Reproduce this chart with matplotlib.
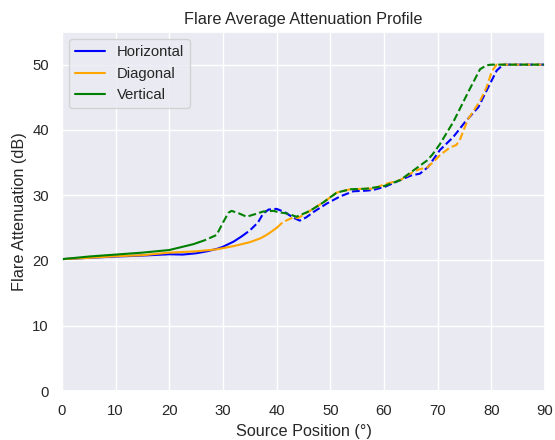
import numpy as np
import matplotlib
matplotlib.use("Agg")
import matplotlib.pyplot as plt
import seaborn as sns

sns.set_theme(style="darkgrid")
plt.rcParams['font.family'] = ['Liberation Sans', 'DejaVu Sans']

# Source position (deg) and attenuation (dB) per orientation
h_pos = [0, 5, 10, 15, 20, 22.5, 25, 27, 29, 30, 32, 33.5, 35, 36.5, 37.5, 38.5, 40,
         41.5, 43, 44.3, 45.5, 47, 49.3, 51.8, 54.3, 56.8, 58, 60.2, 63, 65, 66.7,
         68.2, 70.4, 72.9, 75.1, 77.6, 79.1, 81, 82.2, 90]
h_att = [20.2, 20.4, 20.6, 20.75, 20.95, 20.9, 21.1, 21.4, 21.8, 22.1, 22.9, 23.7, 24.6,
         25.8, 27.2, 27.8, 27.9, 27.4, 26.6, 26.1, 26.6, 27.5, 28.7, 29.8, 30.6, 30.7,
         30.8, 31.3, 32.3, 33.0, 33.3, 34.3, 36.9, 38.9, 41.2, 43.5, 46.0, 49.1, 50, 50]
h_split = 33.5

d_pos = [0, 5, 10, 15, 20, 25, 28.8, 32, 35, 37, 38.1, 39, 40, 41.2, 43.1, 44, 46.2,
         48.7, 51.2, 53.7, 56.8, 58, 60.2, 63, 65.5, 66.7, 68, 69.2, 70.5, 72.3, 73.5,
         74.2, 75, 75.7, 77, 78, 79.1, 80.1, 81, 90]
d_att = [20.2, 20.4, 20.65, 20.8, 21.2, 21.4, 21.7, 22.2, 22.8, 23.4, 23.9, 24.4, 25.0,
         25.9, 26.6, 26.5, 27.6, 28.9, 30.4, 30.9, 31.0, 31.0, 31.7, 32.3, 33.6, 34.0,
         34.2, 35.1, 36.2, 37.3, 37.7, 38.6, 40.3, 41.7, 43.3, 44.6, 46.5, 49.0, 50, 50]
d_split = 40

v_pos = [0, 5, 10, 15, 20, 24.5, 26.6, 28.8, 30, 31, 31.6, 33, 34.4, 36, 37.5, 39.4,
         40.3, 41.9, 43.7, 46.2, 48.7, 51.2, 53.7, 56.8, 60, 63, 65.5, 68, 69, 70.4,
         72.9, 76, 77.9, 79.1, 80, 90]
v_att = [20.2, 20.6, 20.9, 21.2, 21.6, 22.5, 23.1, 23.9, 25.8, 27.3, 27.6, 27.2, 26.7,
         27.1, 27.5, 27.6, 27.4, 27.2, 26.7, 27.6, 28.9, 30.4, 30.9, 31.0, 31.4, 32.3,
         33.8, 35.3, 36.2, 37.8, 41.2, 46.3, 49.3, 49.9, 50, 50]
v_split = 25.5

series = [("Horizontal", "blue", h_pos, h_att, h_split),
          ("Diagonal", "orange", d_pos, d_att, d_split),
          ("Vertical", "green", v_pos, v_att, v_split)]

fig = plt.figure(figsize=(5.55, 4.4), dpi=100)
ax = fig.add_axes([62 / 555, 49 / 440, 483 / 555, 359 / 440])

for name, color, pos, att, split in series:
    pos = np.array(pos, dtype=float)
    att = np.array(att, dtype=float)
    s_att = np.interp(split, pos, att)
    m1 = pos < split
    x1 = np.append(pos[m1], split)
    y1 = np.append(att[m1], s_att)
    x2 = np.insert(pos[~m1], 0, split)
    y2 = np.insert(att[~m1], 0, s_att)
    ax.plot(x1, y1, color=color, lw=1.5, label=name)
    ax.plot(x2, y2, color=color, lw=1.5, ls="--")

ax.set_xlim(0, 90)
ax.set_ylim(0, 55)
ax.set_xticks(range(0, 91, 10))
ax.set_yticks(range(0, 51, 10))
ax.tick_params(labelsize=10.7)
ax.set_xlabel("Source Position (°)", fontsize=11.7)
ax.set_ylabel("Flare Attenuation (dB)", fontsize=11.7)
ax.set_title("Flare Average Attenuation Profile", fontsize=11.7)
ax.legend(loc="upper left", fontsize=10.7)

fig.savefig("out.png", dpi=100)
